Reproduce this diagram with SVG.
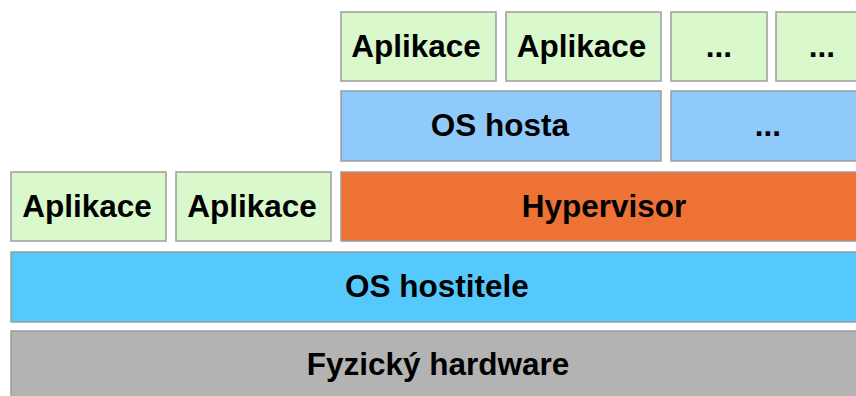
<svg xmlns="http://www.w3.org/2000/svg" width="856" height="396" viewBox="0 0 856 396">
  <style>
    .box { stroke: #9c9c9c; stroke-width: 1.5; }
    .app { fill: #d9f8cc; }
    .guest { fill: #8fcafb; }
    .hyp { fill: #ed7234; }
    .host { fill: #55c9fc; }
    .hw { fill: #b3b3b3; }
    text { font-family: "Liberation Sans", Arial, sans-serif; font-weight: bold; font-size: 31.5px; fill: #000; text-anchor: middle; }
  </style>
  <rect x="0" y="0" width="856" height="396" fill="#fff"/>

  <!-- top row: guest applications -->
  <g id="app-guest-1"><rect class="box app" x="341" y="12" width="155" height="69"/><text x="416" y="57">Aplikace</text></g>
  <g id="app-guest-2"><rect class="box app" x="506" y="12" width="155" height="69"/><text x="581.5" y="57">Aplikace</text></g>
  <g id="app-guest-3"><rect class="box app" x="671" y="12" width="96" height="69"/><text x="719" y="57">...</text></g>
  <g id="app-guest-4"><rect class="box app" x="776" y="12" width="92" height="69"/><text x="822" y="57">...</text></g>

  <!-- guest operating systems -->
  <g id="os-guest-1"><rect class="box guest" x="341" y="91" width="320" height="70"/><text x="500" y="136">OS hosta</text></g>
  <g id="os-guest-2"><rect class="box guest" x="671" y="91" width="194" height="70"/><text x="768" y="136">...</text></g>

  <!-- host applications and hypervisor -->
  <g id="app-host-1"><rect class="box app" x="11" y="172" width="155" height="69"/><text x="87" y="217">Aplikace</text></g>
  <g id="app-host-2"><rect class="box app" x="176" y="172" width="155" height="69"/><text x="252" y="217">Aplikace</text></g>
  <g id="hypervisor"><rect class="box hyp" x="341" y="172" width="526" height="69"/><text x="604" y="217">Hypervisor</text></g>

  <!-- host operating system -->
  <g id="os-host"><rect class="box host" x="11" y="252" width="854" height="70"/><text x="437" y="297">OS hostitele</text></g>

  <!-- physical hardware -->
  <g id="hardware"><rect class="box hw" x="11" y="331" width="854" height="75"/><text x="438" y="375">Fyzický hardware</text></g>
</svg>
